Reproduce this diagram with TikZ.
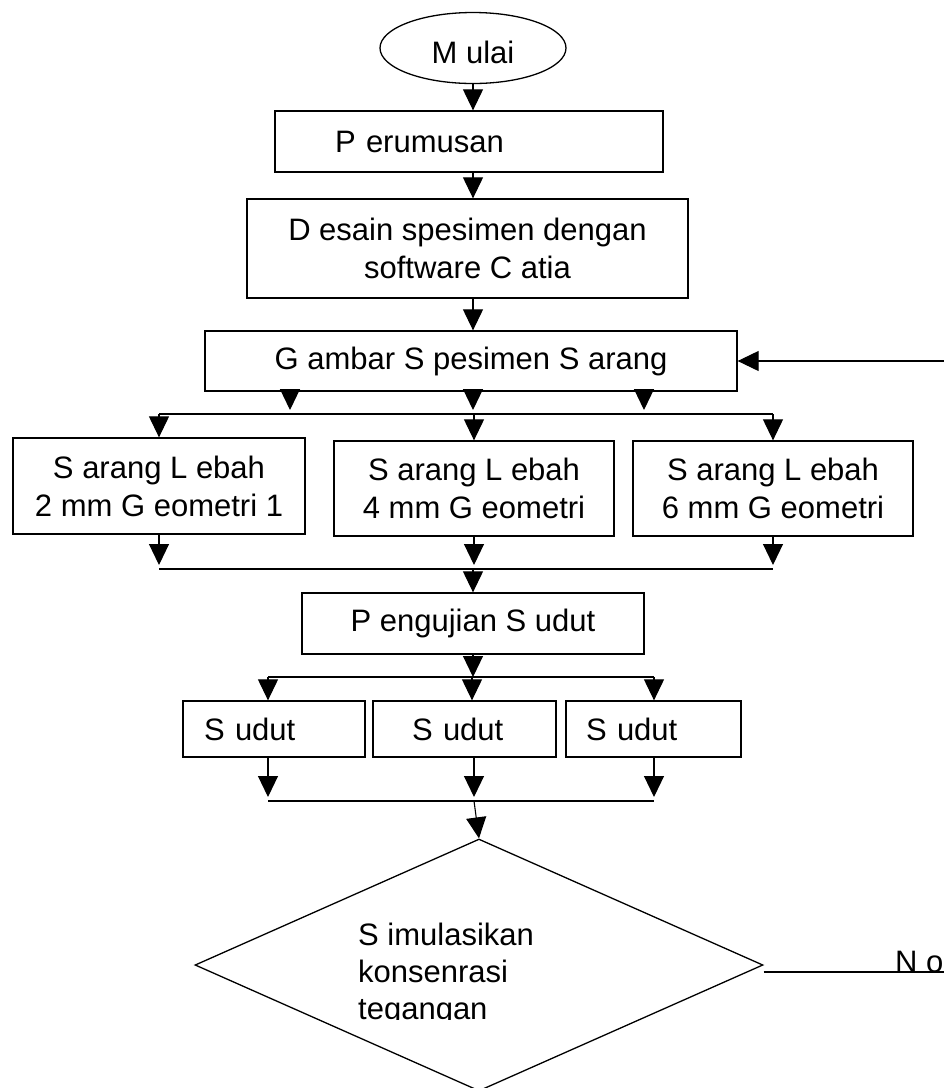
\documentclass[tikz,border=0pt]{standalone}
\usepackage{fontspec}
\setmainfont{Liberation Sans}
\usetikzlibrary{arrows.meta, shapes, positioning}

\begin{document}
\begin{tikzpicture}[x=1pt, y=-1pt,
                   every node/.style={font=\fontsize{31}{38}\selectfont},
                   box/.style={draw=black, line width=1.3pt, inner sep=0pt, align=center},
                   sudutbox/.style={box, minimum height=56pt, align=left},
                   arr/.style={-{Triangle[width=20pt,length=21pt]}, line width=1.1pt},
                   bus/.style={line width=1.3pt}]
\useasboundingbox (0,0) rectangle (944,1088);

\node[box, ellipse, minimum width=186pt, minimum height=71pt, text height=30pt, text depth=0pt] (mulai) at (473,48) {M ulai};
\node[box, minimum width=388pt, minimum height=61pt, text width=268pt, inner xsep=60pt, align=left] (peru) at (469,141.5) {P erumusan};
\node[box, minimum width=441pt, minimum height=99pt] (desain) at (467.5,248.5) {D esain spesimen dengan\\software C atia};
\node[box, minimum width=532pt, minimum height=60pt] (gambar) at (471,361) {G ambar S pesimen S arang};

\node[box, minimum width=292pt, minimum height=96pt] (sar1) at (159,486) {S arang L ebah\\2 mm G eometri 1};
\node[box, minimum width=280pt, minimum height=95pt] (sar2) at (474,488.5) {S arang L ebah\\4 mm G eometri};
\node[box, minimum width=280pt, minimum height=95pt] (sar3) at (773,488.5) {S arang L ebah\\6 mm G eometri};

\node[box, minimum width=342pt, minimum height=61pt] (uji) at (473,623.5) {P engujian S udut};

\node[sudutbox, text width=140pt, inner xsep=21pt] (sud1) at (274,729) {S udut};
\node[sudutbox, text width=105pt, inner xsep=39pt] (sud2) at (464.5,729) {S udut};
\node[sudutbox, text width=135pt, inner xsep=20pt] (sud3) at (653.5,729) {S udut};

\node[draw, line width=1.3pt, diamond, minimum width=568pt, minimum height=252pt, inner sep=0pt] (simul) at (479,965) {};
\begin{scope}
  \clip (340,900) rectangle (620,1019);
  \node[anchor=north west, align=left, inner sep=0pt, font=\fontsize{31}{37}\selectfont] (simtext) at (358,923) {S imulasikan\\konsenrasi\\tegangan};
\end{scope}

% top part
\draw[arr] (mulai.south) -- (mulai.south |- peru.north);
\draw[arr] (peru.south -| mulai) -- (desain.north -| mulai);
\draw[arr] (desain.south -| mulai) -- (gambar.north -| mulai);
\coordinate (fb) at (944,361);
\draw[arr] (fb) -- (gambar.east);

% split to sarang lebah
\coordinate (busA) at (473,414);
\foreach \dx in {-181,2,173}
  \draw[arr, shorten >=4pt] ([xshift=\dx pt]gambar.south) -- ([xshift=\dx pt]gambar.south |- busA);
\draw[bus] (sar1.north |- busA) -- (sar3.north |- busA);
\foreach \s in {sar1,sar2,sar3}
  \draw[arr] (\s.north |- busA) -- (\s.north);

% join to pengujian
\coordinate (busB) at (473,569);
\foreach \s in {sar1,sar2,sar3}
  \draw[arr, shorten >=4pt] (\s.south) -- (\s.south |- busB);
\draw[bus] (sar1.south |- busB) -- (sar3.south |- busB);
\draw[arr] (busB) -- (busB |- uji.north);

% split to sudut
\coordinate (busC1) at (268,677);
\coordinate (busC2) at (472,677);
\coordinate (busC3) at (654,677);
\draw[arr] (uji.south) -- (uji.south |- busC2);
\draw[bus] (busC1) -- (busC3);
\draw[arr] (busC1) -- (busC1 |- sud1.north);
\draw[arr] (busC2) -- (busC2 |- sud2.north);
\draw[arr] (busC3) -- (busC3 |- sud3.north);

% join to simulasi
\coordinate (busD1) at (268,801);
\coordinate (busD2) at (474,801);
\coordinate (busD3) at (654,801);
\draw[arr, shorten >=4pt] (busD1 |- sud1.south) -- (busD1);
\draw[arr, shorten >=4pt] (busD2 |- sud2.south) -- (busD2);
\draw[arr, shorten >=4pt] (busD3 |- sud3.south) -- (busD3);
\draw[bus] (busD1) -- (busD3);
\draw[arr] (busD2) -- (simul.north);

% no branch
\coordinate (noend) at (944,972);
\draw[bus] ([yshift=-7pt]simul.east) -- (noend);
\node[anchor=base west, inner sep=0pt] (no) at (895,972) {N o};
\end{tikzpicture}
\end{document}
